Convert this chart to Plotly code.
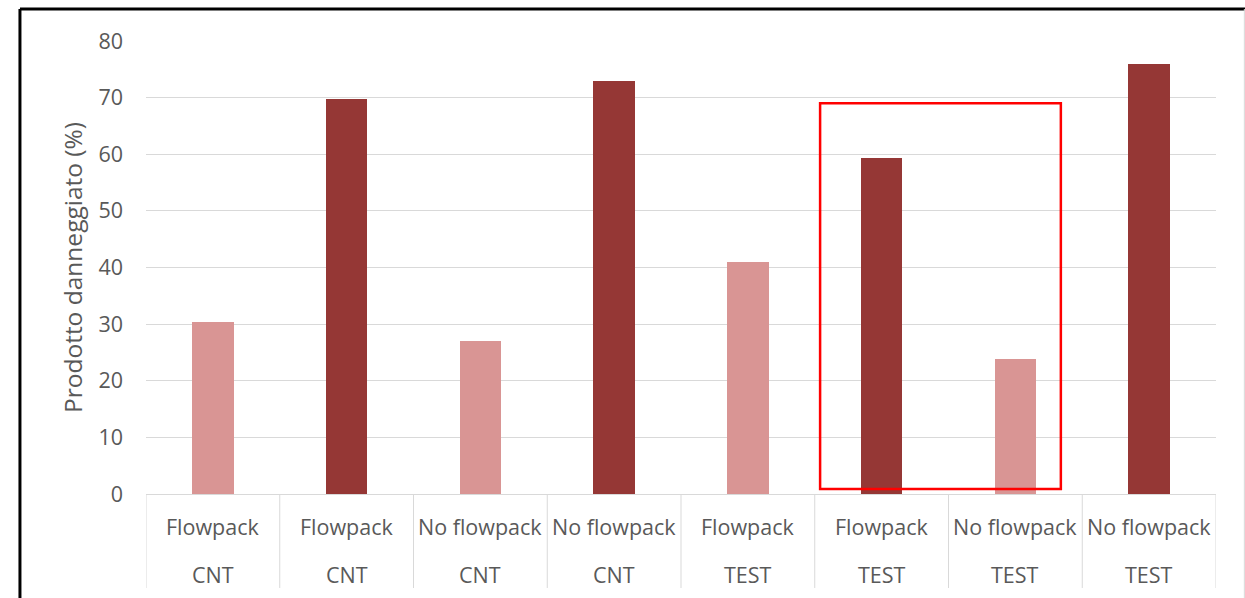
import plotly.graph_objects as go

packaging = ["Flowpack", "Flowpack", "No flowpack", "No flowpack",
             "Flowpack", "Flowpack", "No flowpack", "No flowpack"]
group = ["CNT", "CNT", "CNT", "CNT", "TEST", "TEST", "TEST", "TEST"]
damaged = [30.3, 69.7, 27.1, 72.9, 40.9, 59.3, 23.9, 76.0]
bar_colors = ["#D99594", "#953735", "#D99594", "#953735",
              "#D99594", "#953735", "#D99594", "#953735"]
y_ticks = [0, 10, 20, 30, 40, 50, 60, 70, 80]

# highlight box around categories 6-7 (data coordinates)
highlight_x = [4.54, 6.34]
highlight_y = [0.9, 69.0]

idx = list(range(len(damaged)))
FONT = "'Open Sans', sans-serif"
GRAY = "#595959"

fig = go.Figure()
fig.add_trace(go.Bar(x=idx, y=damaged, marker_color=bar_colors,
                     marker_line_width=0, width=0.31, hoverinfo="y"))

shapes = []
# category dividers below axis
for i in range(len(idx) + 1):
    shapes.append(dict(type="line", xref="x", yref="paper",
                       x0=i - 0.5, x1=i - 0.5, y0=0, y1=-0.2075,
                       line=dict(color="#D9D9D9", width=1)))
# highlight rectangle
shapes.append(dict(type="rect", xref="x", yref="y",
                   x0=highlight_x[0], x1=highlight_x[1],
                   y0=highlight_y[0], y1=highlight_y[1],
                   line=dict(color="#FF0000", width=2.5), layer="above"))
# chart border (top, left black; right gray)
shapes.append(dict(type="line", xref="paper", yref="paper",
                   x0=-0.1178, x1=1.03, y0=1.0706, y1=1.0706,
                   line=dict(color="#000000", width=3)))
shapes.append(dict(type="line", xref="paper", yref="paper",
                   x0=-0.1178, x1=-0.1178, y0=1.0706, y1=-0.3,
                   line=dict(color="#000000", width=3)))
shapes.append(dict(type="line", xref="paper", yref="paper",
                   x0=1.0265, x1=1.0265, y0=1.0706, y1=-0.3,
                   line=dict(color="#D9D9D9", width=1)))

annotations = []
for i in idx:
    annotations.append(dict(x=i, y=0, xref="x", yref="paper", text=packaging[i],
                            showarrow=False, yanchor="middle", yshift=-32,
                            font=dict(family=FONT, size=21.5, color=GRAY)))
    annotations.append(dict(x=i, y=0, xref="x", yref="paper", text=group[i],
                            showarrow=False, yanchor="middle", yshift=-80,
                            font=dict(family=FONT, size=21.5, color=GRAY)))

fig.update_layout(
    width=1245, height=598,
    margin=dict(l=146, r=29, t=41, b=104),
    paper_bgcolor="white", plot_bgcolor="white",
    showlegend=False, bargap=0,
    font=dict(family=FONT, size=21.5, color=GRAY),
    shapes=shapes, annotations=annotations,
    xaxis=dict(range=[-0.5, 7.5], tickvals=idx, showticklabels=False,
               showgrid=False, zeroline=False, showline=True,
               linecolor="#D9D9D9", linewidth=1, fixedrange=True),
    yaxis=dict(range=[0, 80], tickvals=y_ticks, showgrid=True,
               gridcolor="#D9D9D9", gridwidth=1, zeroline=False,
               showline=False, ticks="", ticklabelstandoff=22,
               tickfont=dict(family=FONT, size=21.5, color=GRAY),
               title=dict(text="Prodotto danneggiato (%)", standoff=8,
                          font=dict(family=FONT, size=24.5, color=GRAY)),
               fixedrange=True),
)

fig.write_html("out.html")
